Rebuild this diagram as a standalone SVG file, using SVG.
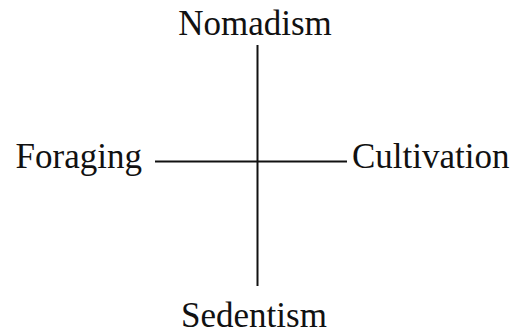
<svg xmlns="http://www.w3.org/2000/svg" width="514" height="335" viewBox="0 0 514 335">
<style>
.lbl{font-family:"Liberation Serif","Times New Roman",serif;font-size:35px;fill:#111}
.ax{stroke:#111;stroke-width:2;fill:none}
</style>
<rect width="514" height="335" fill="#fff"/>
<g id="connectors">
<line class="ax" x1="257.5" y1="45" x2="257.5" y2="286"/>
<line class="ax" x1="155" y1="161.5" x2="347" y2="161.5"/>
</g>
<g id="nomadism"><text class="lbl" x="255" y="35" text-anchor="middle">Nomadism</text></g>
<g id="foraging"><text class="lbl" x="142" y="168" text-anchor="end">Foraging</text></g>
<g id="cultivation"><text class="lbl" x="352" y="168">Cultivation</text></g>
<g id="sedentism"><text class="lbl" x="254" y="327" text-anchor="middle">Sedentism</text></g>
</svg>
